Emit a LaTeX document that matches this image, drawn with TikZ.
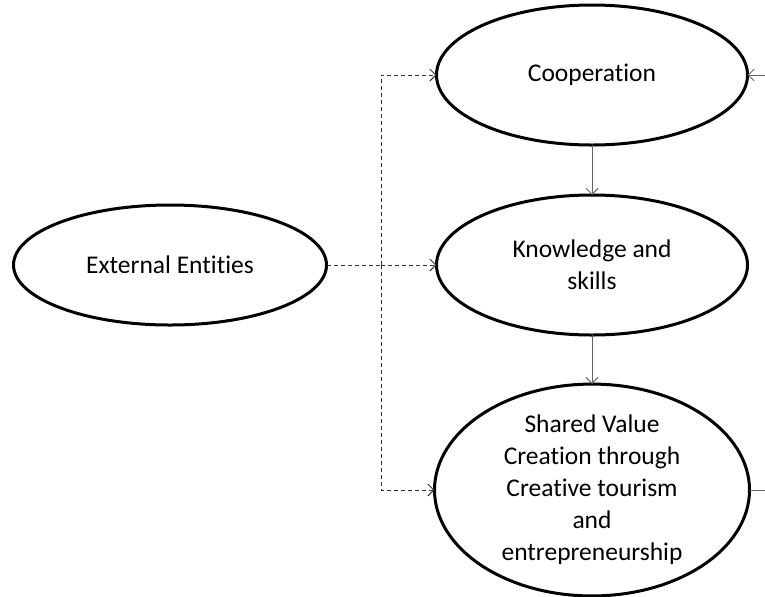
\documentclass[tikz,border=0pt]{standalone}
\usepackage{fontspec}
\setmainfont{Carlito}[Ligatures=NoCommon]
\usetikzlibrary{shapes.geometric}
\usetikzlibrary{arrows.meta}

\begin{document}
\begin{tikzpicture}[x=0.5pt, y=-0.5pt]
        % Define styles for shapes
        \tikzstyle{oval} = [draw, ellipse, line width=1.5pt, inner sep=0pt, outer sep=0pt, align=center, font=\fontsize{12.75}{16}\selectfont]
        \tikzstyle{dashline} = [draw, dashed, dash pattern=on 2pt off 1.5pt, line width=0.5pt, black!80]
        \tikzstyle{flow} = [draw, line width=0.5pt, black!60, -{Straight Barb[length=3pt, width=6pt]}]
        \tikzstyle{tip} = [-{Straight Barb[length=3pt, width=6pt]}]

        \useasboundingbox (0,0) rectangle (765,596);
        \clip (0,0) rectangle (765,596);

        % Draw shapes
        \node[oval, minimum width=156.5pt, minimum height=60pt] (ext) at (170, 265) {External Entities};
        \node[oval, minimum width=155.5pt, minimum height=70pt] (coop) at (592, 75) {Cooperation};
        \node[oval, minimum width=155.5pt, minimum height=70pt] (know) at (592, 265) {Knowledge and\\skills};
        \node[oval, minimum width=157.5pt, minimum height=102.5pt] (shared) at (592, 490) {
                Shared Value\\
                Creation through\\
                Creative tourism\\
                and\\
                entrepreneurship
        };

        % Junction points
        \coordinate (jn) at (381, 265);
        \coordinate (jtop) at (381, 75);
        \coordinate (jbot) at (381, 490);
        \coordinate (fb) at (800, 490);

        % Draw arrows
        \draw[dashline] (ext.east) -- (jn);
        \draw[dashline, tip] (jn) -- (know.west);
        \draw[dashline, tip] (jn) -- (jtop) -- (coop.west);
        \draw[dashline, tip] (jn) -- (jbot) -- (shared.west);
        \draw[flow] (coop.south) -- (know.north);
        \draw[flow] (know.south) -- (shared.north);
        \draw[line width=0.5pt, black!60, tip] (shared.east) -- (fb) |- (coop.east);
    \end{tikzpicture}
\end{document}
